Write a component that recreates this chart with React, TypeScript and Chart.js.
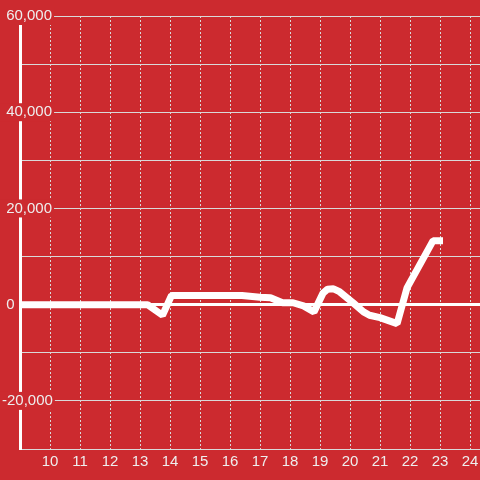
import { useEffect, useRef } from 'react';
import { Chart, registerables } from 'chart.js';

Chart.register(...registerables);

// Series: x position (hour-like units) and value
const xValues = [8, 13.25, 13.75, 14.05, 16.4, 17.0, 17.35, 17.75, 18.1, 18.45, 18.8, 19.1, 19.25, 19.45, 19.65, 20.1, 20.45, 20.65, 21.0, 21.57, 21.9, 22.77, 23.1];
const yValues = [0, 0, -2200, 1900, 1900, 1550, 1450, 400, 400, -250, -1500, 2400, 3200, 3300, 2700, 400, -1500, -2200, -2700, -3950, 3500, 13300, 13300];

// Axis ticks
const xTickValues = [10, 11, 12, 13, 14, 15, 16, 17, 18, 19, 20, 21, 22, 23, 24];
const yLabelValues = [60000, 40000, 20000, 0, -20000];

const RED = '#cc2a2f';
const GRID = '#d9d9d9';
const TEXT = '#eeeeee';
const FONT = { family: '"Liberation Sans", Arial, sans-serif', size: 15 };

export default function App() {
  const ref = useRef<HTMLCanvasElement>(null);

  useEffect(() => {
    if (!ref.current) return;
    const chart = new Chart(ref.current, {
      type: 'line',
      data: {
        datasets: [
          {
            data: xValues.map((x, i) => ({ x, y: yValues[i] })),
            borderColor: '#ffffff',
            borderWidth: 7,
            borderJoinStyle: 'bevel',
            pointRadius: 0,
            tension: 0,
            fill: false,
          },
        ],
      },
      options: {
        animation: false,
        responsive: false,
        devicePixelRatio: 1,
        layout: { padding: { top: 16, right: 0, bottom: 5, left: 0 } },
        plugins: { legend: { display: false }, tooltip: { enabled: false } },
        scales: {
          x: {
            type: 'linear',
            min: 9,
            max: 24.333,
            afterBuildTicks: (s: any) => {
              s.ticks = xTickValues.map((v) => ({ value: v }));
            },
            afterFit: (s: any) => {
              s.paddingLeft = 0;
              s.paddingRight = 0;
            },
            ticks: {
              padding: 4,
              color: TEXT,
              font: FONT,
              maxRotation: 0,
              autoSkip: false,
              callback: (v: any) => String(v),
            },
            grid: { color: GRID, lineWidth: 1, drawTicks: false },
            border: { color: GRID, width: 1, dash: [2, 2] },
          },
          y: {
            min: -30000,
            max: 60000,
            afterFit: (s: any) => {
              s.width = 20;
            },
            ticks: {
              stepSize: 10000,
              mirror: true,
              padding: -18,
              color: TEXT,
              font: FONT,
              callback: (v: any) => {
                const n = Number(v);
                if (!yLabelValues.includes(n)) return '';
                if (n >= 0) return ' ' + n.toLocaleString('en-US');
                return n.toLocaleString('en-US');
              },
              showLabelBackdrop: true,
              backdropColor: (c: any) =>
                c.tick && c.tick.value !== 0 && yLabelValues.includes(c.tick.value) ? RED : 'rgba(0,0,0,0)',
              backdropPadding: { x: 2, y: 0 },
            },
            grid: {
              color: (c: any) => (c.tick && c.tick.value === 0 ? '#ffffff' : GRID),
              lineWidth: (c: any) => (c.tick && c.tick.value === 0 ? 3 : 1),
              drawTicks: false,
            },
            border: { color: '#ffffff', width: 3 },
          },
        },
      } as any,
    });
    return () => chart.destroy();
  }, []);

  return (
    <div style={{ position: 'fixed', left: 0, top: 0, width: 480, height: 480, background: RED }}>
      <canvas ref={ref} width={480} height={480} style={{ display: 'block' }} />
    </div>
  );
}
